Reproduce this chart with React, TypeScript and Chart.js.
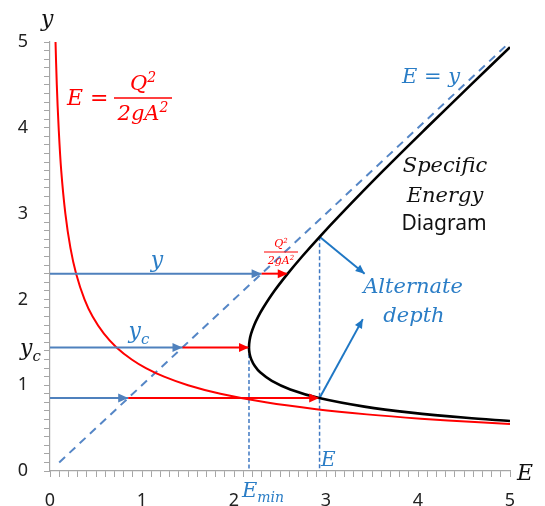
import React, { useEffect, useRef } from 'react';
import { Chart, registerables } from 'chart.js';
Chart.register(...registerables);

// Specific energy curve E = y + Q²/(2gA²)
const specificY = [4.94, 4.5, 4.0, 3.5, 3.0, 2.73, 2.5, 2.3, 2.1, 1.9, 1.8, 1.7, 1.6, 1.52, 1.44, 1.37, 1.3, 1.22, 1.15, 1.05, 0.95, 0.85, 0.75, 0.68, 0.62, 0.583];
const specificE = [5.0, 4.574, 4.094, 3.622, 3.167, 2.931, 2.74, 2.584, 2.44, 2.316, 2.263, 2.219, 2.186, 2.169, 2.163, 2.169, 2.188, 2.228, 2.284, 2.411, 2.612, 2.926, 3.417, 3.924, 4.522, 5.0];

// Velocity-head curve E = Q²/(2gA²)
const headY = [5.0, 4.5, 4.0, 3.5, 3.0, 2.6, 2.3, 2.0, 1.8, 1.6, 1.44, 1.3, 1.2, 1.1, 1.0, 0.9, 0.8, 0.72, 0.66, 0.61, 0.57, 0.548];
const headE = [0.06, 0.074, 0.094, 0.122, 0.167, 0.222, 0.284, 0.375, 0.463, 0.586, 0.723, 0.888, 1.042, 1.24, 1.5, 1.852, 2.344, 2.894, 3.444, 4.031, 4.617, 5.0];

// E = y line
const diagE = [0.1, 5.0];
const diagY = [0.1, 5.0];

// Horizontal arrows: depth y, reach E=y line, then the specific energy curve
const arrowDepths = [2.3, 1.44, 0.85];
const arrowCurveE = [2.584, 2.163, 2.926];

// Vertical dashed lines (Emin and E)
const vertE = [2.163, 2.93];
const vertTopY = [1.44, 2.73];

// Alternate depth arrows
const altFromE = [2.93, 2.93];
const altFromY = [2.73, 0.85];
const altToE = [3.42, 3.4];
const altToY = [2.3, 1.77];

// Axes
const axisMin = 0;
const axisMax = 5;
const minorStep = 0.1;

const RED = '#ff0000';
const BLUE_ARROW = '#4f81bd';
const BLUE_DASH = '#5586c6';
const BLUE_VERT = '#3f78c2';
const BLUE_ALT = '#1f77c4';
const BLUE_TEXT = '#2a7dc6';
const AXIS = '#a6a6a6';
const MATH = "'DejaVu Serif', serif";
const SANS = "'Noto Sans', sans-serif";

type Seg = { t: string; k?: 'sup' | 'sub' };

function rich(ctx: CanvasRenderingContext2D, segs: Seg[], x: number, y: number, size: number, color: string, family: string, style: string, align: 'left' | 'center') {
  const fontFor = (k?: string) => `${style} ${k ? Math.round(size * 0.68) : size}px ${family}`;
  let w = 0;
  for (const s of segs) {
    ctx.font = fontFor(s.k);
    w += ctx.measureText(s.t).width;
  }
  let cx = align === 'center' ? x - w / 2 : x;
  ctx.fillStyle = color;
  ctx.textAlign = 'left';
  ctx.textBaseline = 'alphabetic';
  for (const s of segs) {
    ctx.font = fontFor(s.k);
    const dy = s.k === 'sup' ? -size * 0.4 : s.k === 'sub' ? size * 0.25 : 0;
    ctx.fillText(s.t, cx, y + dy);
    cx += ctx.measureText(s.t).width;
  }
}

function frac(ctx: CanvasRenderingContext2D, cx: number, barY: number, barW: number, size: number, color: string, gapTop: number, gapBot: number) {
  rich(ctx, [{ t: 'Q' }, { t: '2', k: 'sup' }], cx, barY - gapTop, size, color, MATH, 'italic', 'center');
  rich(ctx, [{ t: '2' }, { t: 'g' }, { t: 'A' }, { t: '2', k: 'sup' }], cx, barY + gapBot, size, color, MATH, 'italic', 'center');
  ctx.save();
  ctx.strokeStyle = color;
  ctx.lineWidth = Math.max(1, size / 16);
  ctx.beginPath();
  ctx.moveTo(cx - barW / 2, barY);
  ctx.lineTo(cx + barW / 2, barY);
  ctx.stroke();
  ctx.restore();
}

function arrowHead(ctx: CanvasRenderingContext2D, x1: number, y1: number, x2: number, y2: number, color: string, len = 10, half = 4.5) {
  const a = Math.atan2(y2 - y1, x2 - x1);
  ctx.save();
  ctx.fillStyle = color;
  ctx.beginPath();
  ctx.moveTo(x2, y2);
  ctx.lineTo(x2 - len * Math.cos(a) + half * Math.sin(a), y2 - len * Math.sin(a) - half * Math.cos(a));
  ctx.lineTo(x2 - len * Math.cos(a) - half * Math.sin(a), y2 - len * Math.sin(a) + half * Math.cos(a));
  ctx.closePath();
  ctx.fill();
  ctx.restore();
}

const annotations = {
  id: 'annotations',
  afterDatasetsDraw(chart: any) {
    const ctx: CanvasRenderingContext2D = chart.ctx;
    const xs = chart.scales.x;
    const ys = chart.scales.y;
    const px = (v: number) => xs.getPixelForValue(v);
    const py = (v: number) => ys.getPixelForValue(v);
    arrowDepths.forEach((d, i) => {
      arrowHead(ctx, px(0), py(d), px(d), py(d), BLUE_ARROW);
      arrowHead(ctx, px(d), py(d), px(arrowCurveE[i]), py(d), RED);
    });
    altFromE.forEach((e, i) => {
      arrowHead(ctx, px(e), py(altFromY[i]), px(altToE[i]), py(altToY[i]), BLUE_ALT, 9, 4);
    });
  },
  afterDraw(chart: any) {
    const ctx: CanvasRenderingContext2D = chart.ctx;
    ctx.save();
    // Axis titles
    rich(ctx, [{ t: 'y' }], 41, 26, 22, '#111', MATH, 'italic', 'left');
    rich(ctx, [{ t: 'E' }], 517, 480, 22, '#111', MATH, 'italic', 'left');
    // y_c tick label
    rich(ctx, [{ t: 'y' }, { t: 'c', k: 'sub' }], 20, 355, 22, '#111', MATH, 'italic', 'left');
    // E = Q^2 / 2gA^2
    rich(ctx, [{ t: 'E =' }], 67, 105, 22, RED, MATH, 'italic', 'left');
    frac(ctx, 143, 98, 58, 21, RED, 8, 22);
    // small fraction
    frac(ctx, 281, 252, 34, 11, RED, 5, 12);
    // E = y
    rich(ctx, [{ t: 'E = y' }], 402, 83, 21, BLUE_TEXT, MATH, 'italic', 'left');
    // Specific Energy Diagram
    rich(ctx, [{ t: 'Specific' }], 445, 172, 21, '#111', MATH, 'italic', 'center');
    rich(ctx, [{ t: 'Energy' }], 445, 202, 21, '#111', MATH, 'italic', 'center');
    rich(ctx, [{ t: 'Diagram' }], 444, 230, 21, '#111', SANS, 'normal', 'center');
    // y and y_c on arrows
    rich(ctx, [{ t: 'y' }], 157, 267, 22, BLUE_TEXT, MATH, 'italic', 'center');
    rich(ctx, [{ t: 'y' }, { t: 'c', k: 'sub' }], 139, 338, 22, BLUE_TEXT, MATH, 'italic', 'center');
    // Alternate depth
    rich(ctx, [{ t: 'Alternate' }], 413, 293, 21, BLUE_TEXT, MATH, 'italic', 'center');
    rich(ctx, [{ t: 'depth' }], 414, 322, 21, BLUE_TEXT, MATH, 'italic', 'center');
    // E and Emin
    rich(ctx, [{ t: 'E' }], 321, 466, 20, BLUE_TEXT, MATH, 'italic', 'left');
    rich(ctx, [{ t: 'E' }, { t: 'min', k: 'sub' }], 242, 497, 21, BLUE_TEXT, MATH, 'italic', 'left');
    ctx.restore();
  },
};

const line = (xs: number[], ys: number[], color: string, width: number, extra: any = {}) => ({
  data: xs.map((x, i) => ({ x, y: ys[i] })),
  showLine: true,
  borderColor: color,
  backgroundColor: color,
  borderWidth: width,
  pointRadius: 0,
  fill: false,
  ...extra,
});

export default function App() {
  const ref = useRef<HTMLCanvasElement | null>(null);
  useEffect(() => {
    if (!ref.current) return;
    const datasets: any[] = [
      line(specificE, specificY, '#000000', 2.6, { tension: 0.35 }),
      ...arrowDepths.map((d, i) => line([d, arrowCurveE[i]], [d, d], RED, 2)),
      ...arrowDepths.map((d) => line([0, d], [d, d], BLUE_ARROW, 2)),
      ...altFromE.map((e, i) => line([e, altToE[i]], [altFromY[i], altToY[i]], BLUE_ALT, 2)),
      line(headE, headY, RED, 2, { tension: 0.35 }),
      line(diagE, diagY, BLUE_DASH, 2, { borderDash: [8, 6] }),
      ...vertE.map((e, i) => line([e, e], [vertTopY[i], 0], BLUE_VERT, 1.5, { borderDash: [4, 2.5] })),
    ];
    const tickCb = (v: any) => {
      const n = Number(v);
      return Math.abs(n - Math.round(n)) < 1e-6 ? String(Math.round(n)) : '';
    };
    const axis = (fit: (s: any) => void, pad: number) => ({
      type: 'linear' as const,
      min: axisMin,
      max: axisMax,
      afterFit: fit,
      border: { color: AXIS, width: 1.2 },
      grid: { drawOnChartArea: false, drawTicks: true, tickLength: 6, color: AXIS, lineWidth: 1 },
      ticks: {
        stepSize: minorStep,
        maxTicksLimit: 100,
        autoSkip: false,
        maxRotation: 0,
        minRotation: 0,
        padding: pad,
        color: '#222',
        font: { family: SANS, size: 18 },
        callback: tickCb,
      },
    });
    const chart = new Chart(ref.current, {
      type: 'scatter',
      data: { datasets },
      options: {
        responsive: false,
        animation: false,
        events: [],
        layout: { padding: { left: 0, right: 35, top: 42, bottom: 0 } },
        plugins: { legend: { display: false }, tooltip: { enabled: false } },
        scales: {
          x: axis((s: any) => { s.height = 35; }, 13),
          y: axis((s: any) => { s.width = 50; }, 16),
        },
      },
      plugins: [annotations],
    });
    return () => chart.destroy();
  }, []);
  return (
    <div style={{ position: 'absolute', left: 0, top: 0, width: 545, height: 506, background: '#fff' }}>
      <canvas ref={ref} width={545} height={506} style={{ display: 'block' }} />
    </div>
  );
}
